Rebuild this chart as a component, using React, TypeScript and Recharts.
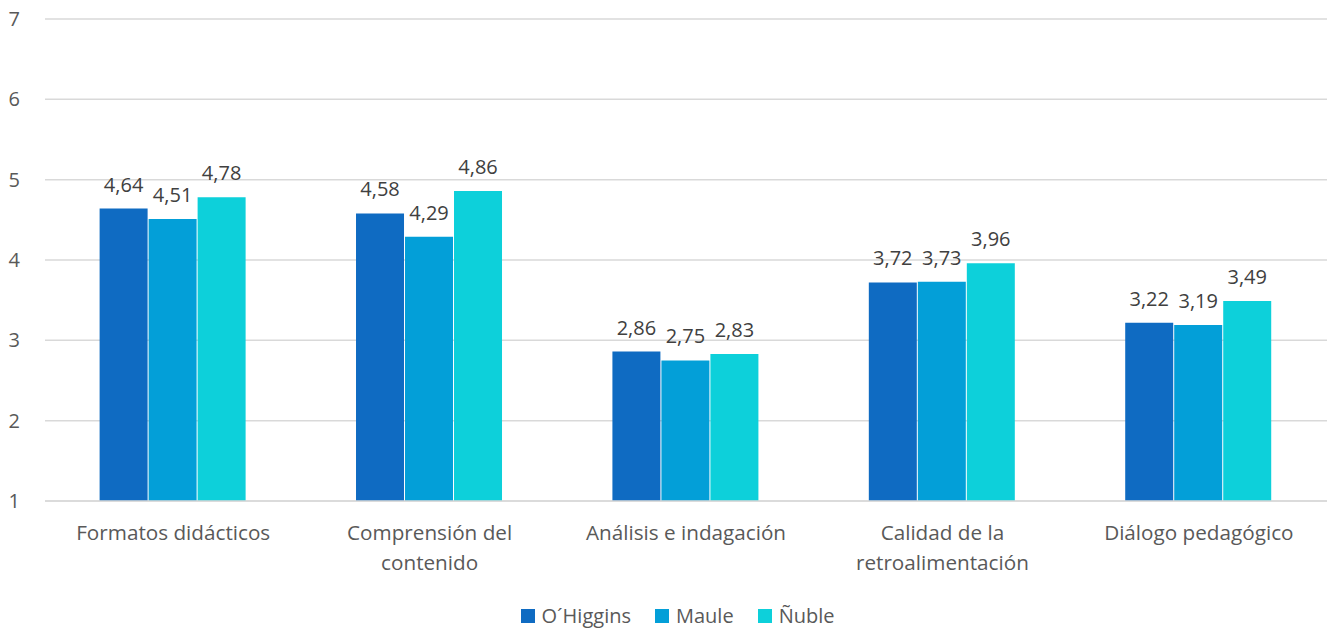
import React from "react";
import { BarChart, Bar, XAxis, YAxis, CartesianGrid, Legend, LabelList } from "recharts";

const categories = [
  "Formatos didácticos",
  "Comprensión del\ncontenido",
  "Análisis e indagación",
  "Calidad de la\nretroalimentación",
  "Diálogo pedagógico",
];
const ohiggins = [4.64, 4.58, 2.86, 3.72, 3.22];
const maule = [4.51, 4.29, 2.75, 3.73, 3.19];
const nuble = [4.78, 4.86, 2.83, 3.96, 3.49];
const yTicks = [1, 2, 3, 4, 5, 6, 7];
const seriesNames = ["O´Higgins", "Maule", "Ñuble"];
const colors = ["#0F6BC2", "#039FD8", "#0DD0DA"];

const data = categories.map((c, i) => ({
  name: c,
  a: ohiggins[i],
  b: maule[i],
  c: nuble[i],
}));

const FONT = "'Open Sans', sans-serif";
const TXT = "#595959";
const FS = 20;

const fmt = (v: any) => Number(v).toFixed(2).replace(".", ",");

const XTick = (props: any) => {
  const { x, y, payload } = props;
  const lines = String(payload.value).split("\n");
  return (
    <g transform={`translate(${x},${y})`}>
      {lines.map((l: string, i: number) => (
        <text
          key={i}
          x={0}
          y={i * 30}
          dy={31}
          textAnchor="middle"
          fill={TXT}
          fontSize={20.7}
          fontFamily={FONT}
        >
          {l}
        </text>
      ))}
    </g>
  );
};

const LegendContent = () => {
  return (
    <div
      style={{
        display: "flex",
        justifyContent: "center",
        alignItems: "center",
        fontFamily: FONT,
        fontSize: FS,
        color: TXT,
        height: 30,
        paddingTop: 3,
        paddingLeft: 28,
        boxSizing: "border-box",
      }}
    >
      {seriesNames.map((n, i) => (
        <div
          key={i}
          style={{ display: "flex", alignItems: "center", marginLeft: i === 0 ? 0 : 24 }}
        >
          <span
            style={{ display: "inline-block", width: 14, height: 14, background: colors[i], marginRight: 7 }}
          />
          <span>{n}</span>
        </div>
      ))}
    </div>
  );
};

export default function App() {
  const keys = ["a", "b", "c"];
  return (
    <div style={{ position: "absolute", left: 0, top: 0, width: 1327, height: 629, background: "#fff" }}>
      <BarChart
        width={1327}
        height={629}
        data={data}
        margin={{ top: 19, right: 0, left: 0, bottom: 0 }}
        barCategoryGap="21.3%"
        barGap={1}
      >
        <CartesianGrid vertical={false} stroke="#D9D9D9" strokeWidth={1.5} />
        <XAxis
          dataKey="name"
          interval={0}
          tick={<XTick />}
          tickLine={false}
          axisLine={{ stroke: "#D9D9D9", strokeWidth: 1.5 }}
          height={98}
        />
        <YAxis
          domain={[1, 7]}
          ticks={yTicks}
          width={45}
          tickLine={false}
          axisLine={false}
          tickSize={0}
          tickMargin={25}
          tick={{ fill: TXT, fontSize: FS, fontFamily: FONT }}
        />
        <Legend verticalAlign="bottom" height={30} content={<LegendContent />} />
        {keys.map((k, i) => (
          <Bar key={k} dataKey={k} name={seriesNames[i]} fill={colors[i]} isAnimationActive={false}>
            <LabelList
              dataKey={k}
              position="top"
              offset={17}
              formatter={fmt}
              fill="#404040"
              fontSize={FS}
              fontFamily={FONT}
            />
          </Bar>
        ))}
      </BarChart>
    </div>
  );
}
